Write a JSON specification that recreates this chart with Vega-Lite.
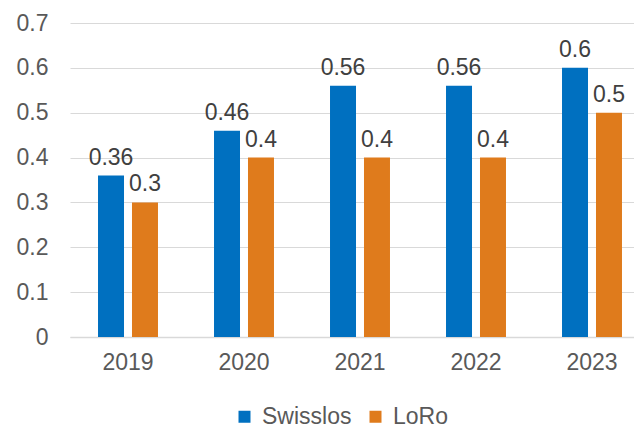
{
  "$schema": "https://vega.github.io/schema/vega-lite/v6.json",
  "autosize": "none",
  "width": 580,
  "height": 314,
  "padding": {"left": 70, "top": 23, "right": 0, "bottom": 90},
  "background": "white",
  "config": {
    "view": {"stroke": null},
    "font": "Liberation Sans"
  },
  "data": {
    "values": [
      {"year": "2019", "series": "Swisslos", "value": 0.36},
      {"year": "2019", "series": "LoRo", "value": 0.3},
      {"year": "2020", "series": "Swisslos", "value": 0.46},
      {"year": "2020", "series": "LoRo", "value": 0.4},
      {"year": "2021", "series": "Swisslos", "value": 0.56},
      {"year": "2021", "series": "LoRo", "value": 0.4},
      {"year": "2022", "series": "Swisslos", "value": 0.56},
      {"year": "2022", "series": "LoRo", "value": 0.4},
      {"year": "2023", "series": "Swisslos", "value": 0.6},
      {"year": "2023", "series": "LoRo", "value": 0.5}
    ]
  },
  "encoding": {
    "x": {
      "field": "year", "type": "nominal",
      "scale": {"paddingInner": 0.483, "paddingOuter": 0.2415},
      "axis": {"title": null, "labelAngle": 0, "ticks": false, "domain": true, "domainColor": "#D9D9D9", "domainWidth": 1.5, "labelFontSize": 23, "labelColor": "#595959", "labelPadding": 14, "labelFont": "Liberation Sans"}
    },
    "xOffset": {"field": "series", "type": "nominal", "sort": ["Swisslos", "LoRo"], "scale": {"paddingInner": 0.235, "paddingOuter": 0}},
    "y": {
      "field": "value", "type": "quantitative",
      "scale": {"domain": [0, 0.7], "nice": false},
      "axis": {"title": null, "values": [0, 0.1, 0.2, 0.3, 0.4, 0.5, 0.6, 0.7], "format": ".1~f", "ticks": false, "domain": false, "grid": true, "gridColor": "#D9D9D9", "gridWidth": 1.2, "labelFontSize": 23, "labelColor": "#595959", "labelPadding": 22, "labelFont": "Liberation Sans"}
    }
  },
  "layer": [
    {
      "mark": {"type": "bar"},
      "encoding": {
        "color": {
          "field": "series", "type": "nominal",
          "scale": {"domain": ["Swisslos", "LoRo"], "range": ["#0070C0", "#DF7B1C"]},
          "legend": {
            "title": null, "orient": "none", "direction": "horizontal",
            "legendX": 163, "legendY": 382,
            "symbolType": "square", "symbolSize": 144, "symbolStrokeWidth": 0,
            "labelFontSize": 23, "labelColor": "#595959", "labelFont": "Liberation Sans",
            "labelOffset": 6, "columnPadding": 12
          }
        }
      }
    },
    {
      "mark": {"type": "text", "baseline": "bottom", "dy": -6, "fontSize": 23, "color": "#404040", "font": "Liberation Sans"},
      "encoding": {
        "text": {"field": "value", "type": "quantitative", "format": "~g"}
      }
    }
  ]
}
